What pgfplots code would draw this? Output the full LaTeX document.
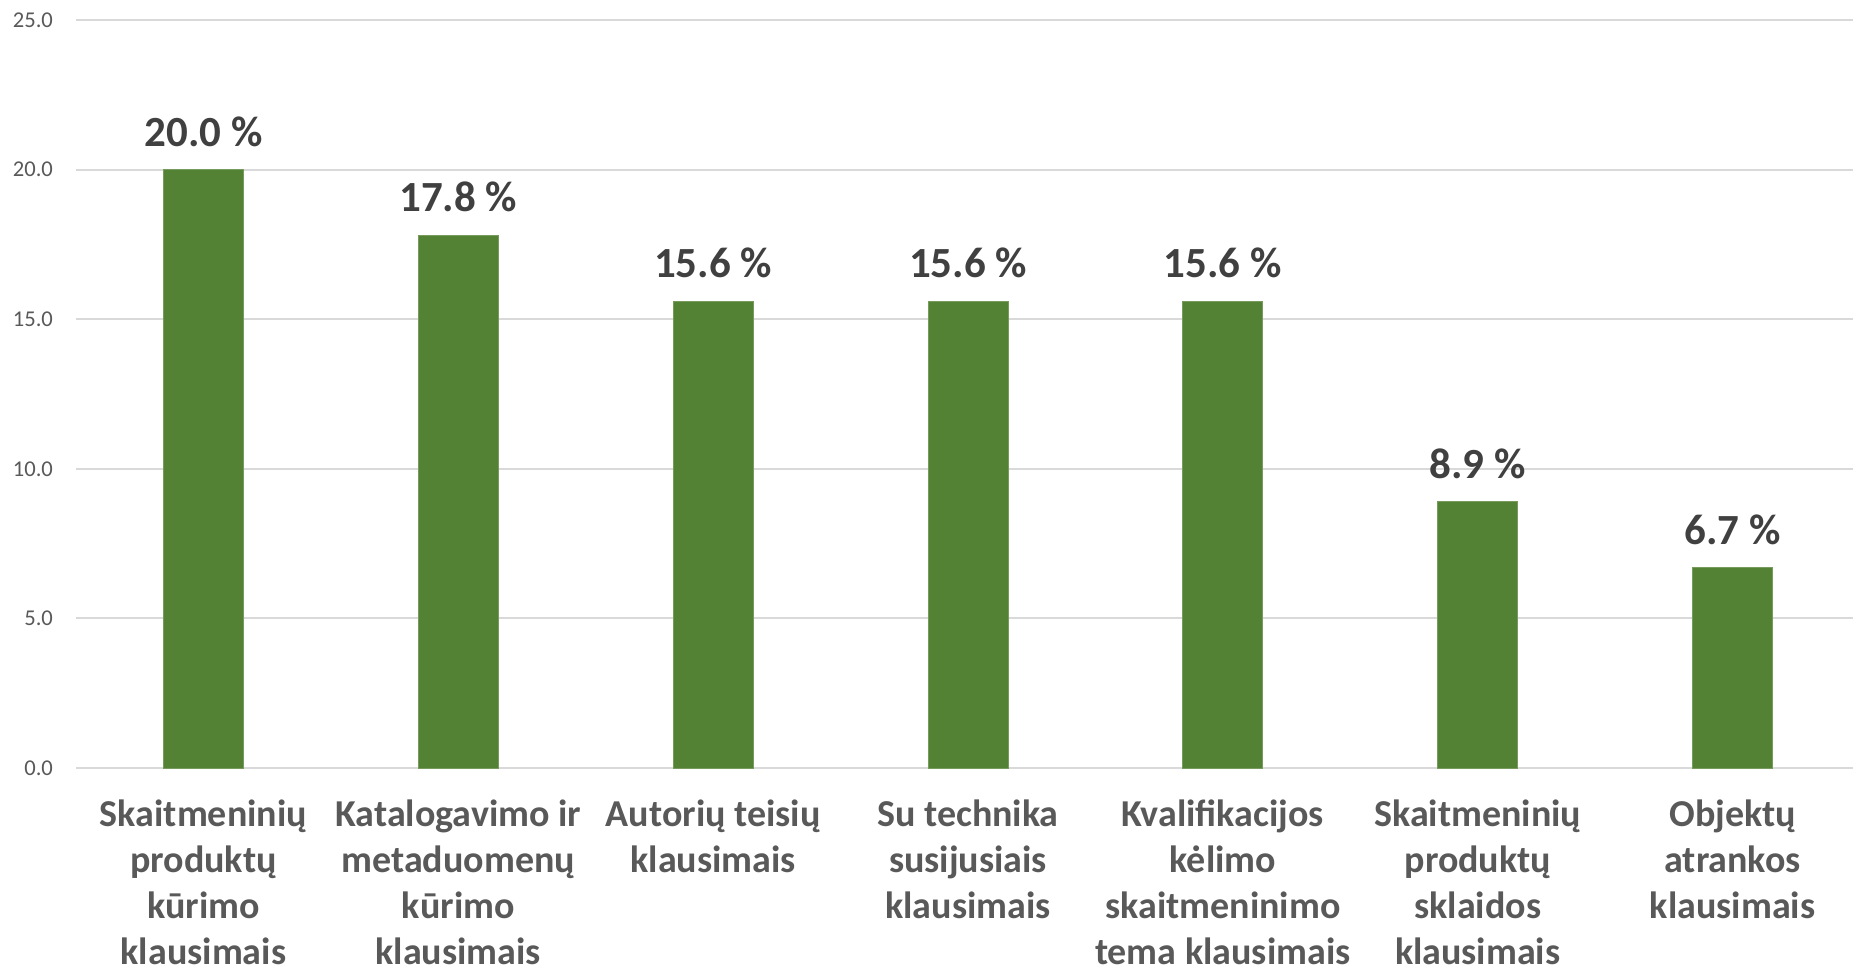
\documentclass[border=0pt]{standalone}
\usepackage{pgfplots}
\pgfplotsset{compat=1.18}
\usepackage{fontspec}
\setmainfont{Carlito}

\definecolor{barGreen}{HTML}{548235}
\definecolor{gridGray}{HTML}{D9D9D9}
\definecolor{tickGray}{HTML}{595959}
\definecolor{labelGray}{HTML}{404040}

\begin{document}
\begin{tikzpicture}
\begin{axis}[
    name=main, at={(0,0)}, anchor=south west,
    scale only axis, width=892pt, height=374pt,
    xmin=-0.5, xmax=6.5, ymin=0, ymax=25,
    ybar, bar width=40pt,
    axis line style={draw=none},
    major tick length=0pt,
    ytick={0,5,10,15,20,25},
    ymajorgrids, grid style={gridGray, line width=1pt},
    /pgf/number format/assume math mode=true,
    yticklabel style={font=\fontsize{11.3}{13}\selectfont, text=tickGray, xshift=-8pt,
        /pgf/number format/fixed, /pgf/number format/fixed zerofill,
        /pgf/number format/precision=1},
    xtick=data,
    xticklabels={
        {Skaitmeninių\\produktų\\kūrimo\\klausimais},
        {Katalogavimo ir\\metaduomenų\\kūrimo\\klausimais},
        {Autorių teisių\\klausimais},
        {Su technika\\susijusiais\\klausimais},
        {Kvalifikacijos\\kėlimo\\skaitmeninimo\\tema klausimais},
        {Skaitmeninių\\produktų\\sklaidos\\klausimais},
        {Objektų\\atrankos\\klausimais}},
    xticklabel style={font=\fontsize{19}{23}\selectfont\bfseries, text=tickGray,
        align=center, yshift=-12.5pt},
    nodes near coords={\pgfmathprintnumber[fixed,fixed zerofill,precision=1]{\pgfplotspointmeta} \%},
    nodes near coords style={font=\fontsize{21.5}{25}\selectfont\bfseries, text=labelGray, yshift=8pt},
]
\addplot[fill=barGreen, draw=barGreen!80!white, line width=0.5pt] coordinates {
    (0, 20.0)
    (1, 17.8)
    (2, 15.6)
    (3, 15.6)
    (4, 15.6)
    (5, 8.9)
    (6, 6.7)
};
\end{axis}
\pgfresetboundingbox
\useasboundingbox ([xshift=-38pt,yshift=-100pt]main.south west) rectangle ([xshift=-3.5pt,yshift=10pt]main.north east);
\end{tikzpicture}
\end{document}
